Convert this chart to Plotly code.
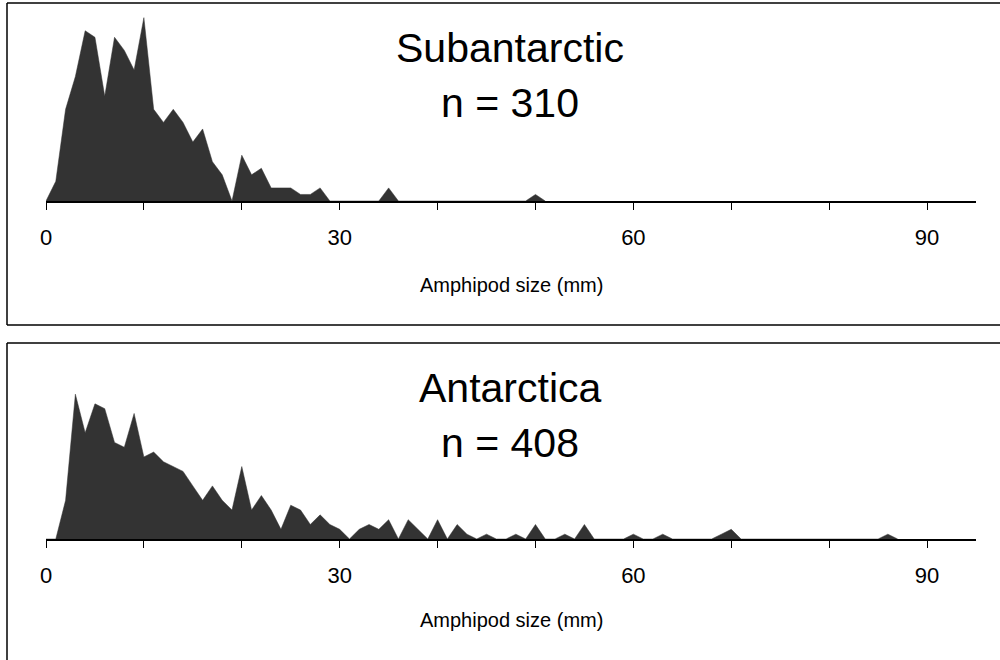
import plotly.graph_objects as go

# ---------------- data ----------------
sizes_sub = list(range(0, 52))  # amphipod size classes (mm)
counts_sub = [0, 3, 14, 19, 26, 25, 16, 25, 23, 20,
              28, 14, 12, 14, 12, 9, 11, 6, 4, 0,
              7, 4, 5, 2, 2, 2, 1, 1, 2, 0,
              0, 0, 0, 0, 0, 2, 0, 0, 0, 0,
              0, 0, 0, 0, 0, 0, 0, 0, 0, 0,
              1, 0]

sizes_ant = list(range(0, 88))
counts_ant = [0, 0, 8, 30, 22, 28, 27, 20, 19, 26,
              17, 18, 16, 15, 14, 11, 8, 11, 8, 6,
              15, 6, 9, 6, 2, 7, 6, 3, 5, 3,
              2, 0, 2, 3, 2, 4, 0, 4, 2, 0,
              4, 0, 3, 1, 0, 1, 0, 0, 1, 0,
              3, 0, 0, 1, 0, 3, 0, 0, 0, 0,
              1, 0, 0, 1, 0, 0, 0, 0, 0, 1,
              2, 0, 0, 0, 0, 0, 0, 0, 0, 0,
              0, 0, 0, 0, 0, 0, 1, 0]

panel_titles = ["Subantarctic", "Antarctica"]
panel_n = ["n = 310", "n = 408"]
tick_vals = [0, 10, 20, 30, 40, 50, 60, 70, 80, 90]
tick_text = ["0", "", "", "30", "", "", "60", "", "", "90"]
x_title = "Amphipod size (mm)"

# ---------------- layout helpers ----------------
W, H = 1000, 660
def px(x):
    return x / W
def py(y):
    return 1 - y / H

pct_sub = [c / sum(counts_sub) * 100 for c in counts_sub]
pct_ant = [c / sum(counts_ant) * 100 for c in counts_ant]

FILL = "#333333"
FONT = "Liberation Sans, Arial, sans-serif"

fig = go.Figure()
fig.add_trace(go.Scatter(x=sizes_sub, y=pct_sub, mode="lines", fill="tozeroy",
                         line=dict(color=FILL, width=0.5), fillcolor=FILL,
                         xaxis="x", yaxis="y", hoverinfo="skip", showlegend=False))
fig.add_trace(go.Scatter(x=sizes_ant, y=pct_ant, mode="lines", fill="tozeroy",
                         line=dict(color=FILL, width=0.5), fillcolor=FILL,
                         xaxis="x2", yaxis="y2", hoverinfo="skip", showlegend=False))

xdom = [0.046, 0.976]
xcommon = dict(range=[0, 95], domain=xdom, showline=True, linecolor="black", linewidth=1.5,
               ticks="outside", ticklen=7, tickwidth=1, tickcolor="black",
               tickvals=tick_vals, ticktext=tick_text, showgrid=False, zeroline=False,
               tickfont=dict(family=FONT, size=22, color="black"), ticklabelstandoff=9,
               automargin=False, fixedrange=True)
ycommon = dict(showline=False, showticklabels=False, ticks="", showgrid=False,
               zeroline=False, automargin=False, fixedrange=True)

fig.update_layout(
    width=W, height=H, margin=dict(l=0, r=0, t=0, b=0, pad=0, autoexpand=False),
    paper_bgcolor="white", plot_bgcolor="rgba(0,0,0,0)",
    xaxis=dict(**xcommon, anchor="y"),
    yaxis=dict(**ycommon, domain=[py(201), py(11)], range=[0, 190 / 20.3], anchor="x"),
    xaxis2=dict(**xcommon, anchor="y2"),
    yaxis2=dict(**ycommon, domain=[py(539), py(349)], range=[0, 190 / 19.7], anchor="x2"),
)

# panel frames
shapes = []
for (top, bottom) in [(3, 325), (343, 660)]:
    shapes.append(dict(type="line", xref="paper", yref="paper", x0=px(7), x1=px(1000),
                       y0=py(top), y1=py(top), line=dict(color="black", width=1.5)))
    shapes.append(dict(type="line", xref="paper", yref="paper", x0=px(7), x1=px(7),
                       y0=py(top), y1=py(bottom), line=dict(color="black", width=1.5)))
    if bottom < H:
        shapes.append(dict(type="line", xref="paper", yref="paper", x0=px(7), x1=px(1000),
                           y0=py(bottom), y1=py(bottom), line=dict(color="black", width=1.5)))
fig.update_layout(shapes=shapes)

# titles and axis titles
annots = []
for i, off in enumerate([0, 340]):
    annots.append(dict(text=panel_titles[i], x=px(510), y=py(48 + off), xref="paper", yref="paper",
                       showarrow=False, xanchor="center", yanchor="middle",
                       font=dict(family=FONT, size=41, color="black")))
    annots.append(dict(text=panel_n[i], x=px(510), y=py(103 + off), xref="paper", yref="paper",
                       showarrow=False, xanchor="center", yanchor="middle",
                       font=dict(family=FONT, size=41, color="black")))
    annots.append(dict(text=x_title, x=px(511), y=py(285 + off * 335 / 340), xref="paper", yref="paper",
                       showarrow=False, xanchor="center", yanchor="middle",
                       font=dict(family=FONT, size=20, color="black")))
fig.update_layout(annotations=annots)

fig.write_html("out.html", config={"displayModeBar": False},
               post_script="document.body.style.margin='0px';")
